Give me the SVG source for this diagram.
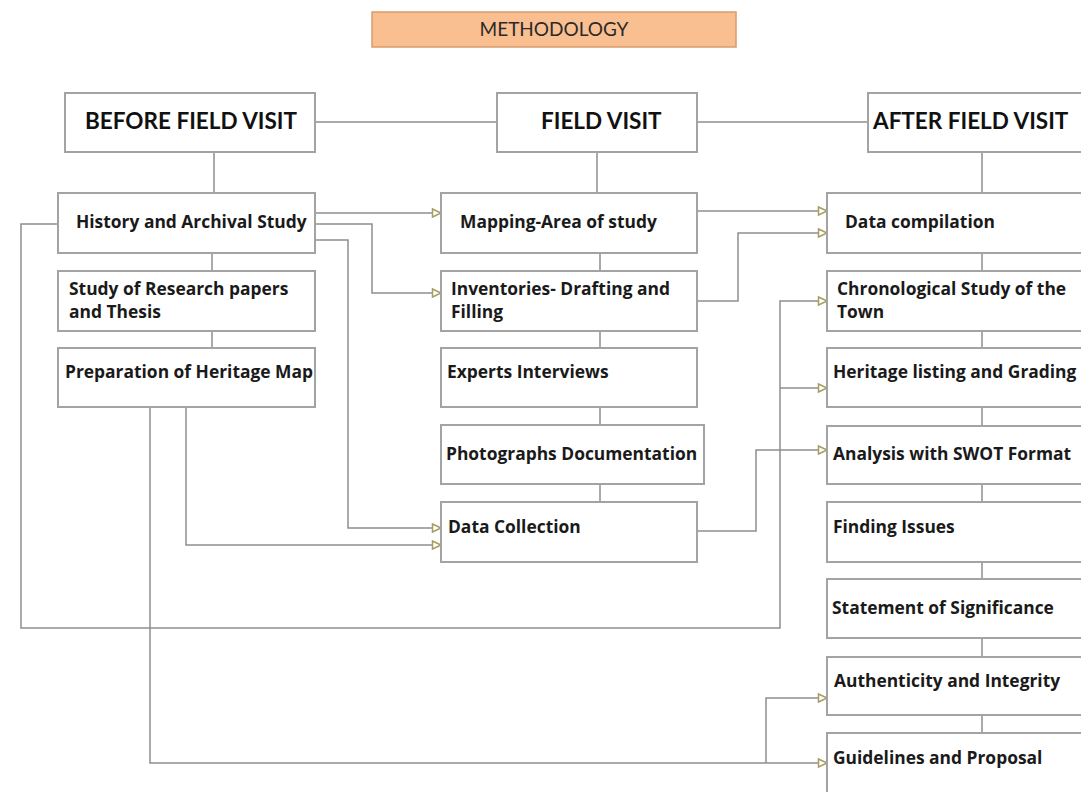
<svg xmlns="http://www.w3.org/2000/svg" width="1081" height="792" viewBox="0 0 1081 792">
<defs>
<style>
.box{fill:#fff;stroke:#a3a3a3;stroke-width:2}
.ln{fill:none;stroke:#8e8e8e;stroke-width:1.5}
.t{font-family:"Open Sans","Liberation Sans",sans-serif;font-weight:bold;font-size:17.4px;fill:#1a1a1a}
.h{font-family:Lato,"Liberation Sans",sans-serif;font-weight:bold;font-size:22.5px;fill:#111}
.ttl{font-family:Lato,"Liberation Sans",sans-serif;font-size:19px;fill:#2a2a2a}
</style>
<marker id="ar" markerUnits="userSpaceOnUse" markerWidth="12" markerHeight="12" viewBox="0 0 12 12" refX="10" refY="6" orient="auto">
<path d="M1.5,2 L10,6 L1.5,10 Z" fill="#fff" stroke="#a59d62" stroke-width="1.5"/>
</marker>
</defs>
<rect width="1081" height="792" fill="#fff"/>

<g id="title">
<rect x="372" y="12" width="364" height="35" fill="#f9bf91" stroke="#d99d6c" stroke-width="1.5"/>
<text class="ttl" x="554" y="36" text-anchor="middle">METHODOLOGY</text>
</g>

<g id="connectors">
<path class="ln" d="M315,122 H497"/>
<path class="ln" d="M697,122 H868"/>
<path class="ln" d="M214,152 V193"/>
<path class="ln" d="M597,152 V193"/>
<path class="ln" d="M982,152 V193"/>
<path class="ln" d="M212,253 V271 M212,331 V348"/>
<path class="ln" d="M600,253 V271 M600,331 V348 M600,407 V425 M600,484 V502"/>
<path class="ln" d="M982,253 V271 M982,331 V348 M982,407 V426 M982,484 V502 M982,562 V579 M982,638 V657 M982,715 V733"/>
<path class="ln" d="M315,213 H441" marker-end="url(#ar)"/>
<path class="ln" d="M315,224 H372 V293 H441" marker-end="url(#ar)"/>
<path class="ln" d="M315,240 H348 V528 H441" marker-end="url(#ar)"/>
<path class="ln" d="M58,224 H21 V628 H780 V301 H827" marker-end="url(#ar)"/>
<path class="ln" d="M780,388 H827" marker-end="url(#ar)"/>
<path class="ln" d="M186,407 V545 H441" marker-end="url(#ar)"/>
<path class="ln" d="M150,407 V763 H827" marker-end="url(#ar)"/>
<path class="ln" d="M766,763 V698 H827" marker-end="url(#ar)"/>
<path class="ln" d="M697,211 H827" marker-end="url(#ar)"/>
<path class="ln" d="M697,301 H738 V233 H827" marker-end="url(#ar)"/>
<path class="ln" d="M697,531 H756 V450 H827" marker-end="url(#ar)"/>
</g>

<g id="before-field-visit"><rect class="box" x="65" y="93" width="250" height="59"/><text class="h" x="85" y="129">BEFORE FIELD VISIT</text></g>
<g id="field-visit"><rect class="box" x="497" y="93" width="200" height="59"/><text class="h" x="541" y="129">FIELD VISIT</text></g>
<g id="after-field-visit"><rect class="box" x="868" y="93" width="230" height="59"/><text class="h" x="873" y="129">AFTER FIELD VISIT</text></g>

<g id="history"><rect class="box" x="58" y="193" width="257" height="60"/><text class="t" x="76" y="228">History and Archival Study</text></g>
<g id="research-papers"><rect class="box" x="58" y="271" width="257" height="60"/><text class="t" x="69" y="295">Study of Research papers</text><text class="t" x="69" y="318">and Thesis</text></g>
<g id="heritage-map"><rect class="box" x="58" y="348" width="257" height="59"/><text class="t" x="65" y="378">Preparation of Heritage Map</text></g>

<g id="mapping"><rect class="box" x="441" y="193" width="256" height="60"/><text class="t" x="460" y="228">Mapping-Area of study</text></g>
<g id="inventories"><rect class="box" x="441" y="271" width="256" height="60"/><text class="t" x="451" y="295">Inventories- Drafting and</text><text class="t" x="451" y="318">Filling</text></g>
<g id="experts"><rect class="box" x="441" y="348" width="256" height="59"/><text class="t" x="447" y="378">Experts Interviews</text></g>
<g id="photographs"><rect class="box" x="441" y="425" width="263" height="59"/><text class="t" x="446" y="460">Photographs Documentation</text></g>
<g id="data-collection"><rect class="box" x="441" y="502" width="256" height="60"/><text class="t" x="448" y="533">Data Collection</text></g>

<g id="data-compilation"><rect class="box" x="827" y="193" width="270" height="60"/><text class="t" x="845" y="228">Data compilation</text></g>
<g id="chronological"><rect class="box" x="827" y="271" width="270" height="60"/><text class="t" x="837" y="295">Chronological Study of the</text><text class="t" x="837" y="318">Town</text></g>
<g id="heritage-listing"><rect class="box" x="827" y="348" width="270" height="59"/><text class="t" x="833" y="378">Heritage listing and Grading</text></g>
<g id="swot"><rect class="box" x="827" y="426" width="270" height="58"/><text class="t" x="833" y="460">Analysis with SWOT Format</text></g>
<g id="finding-issues"><rect class="box" x="827" y="502" width="270" height="60"/><text class="t" x="833" y="533">Finding Issues</text></g>
<g id="significance"><rect class="box" x="827" y="579" width="270" height="59"/><text class="t" x="832" y="614">Statement of Significance</text></g>
<g id="authenticity"><rect class="box" x="827" y="657" width="270" height="58"/><text class="t" x="834" y="687">Authenticity and Integrity</text></g>
<g id="guidelines"><rect class="box" x="827" y="733" width="270" height="70"/><text class="t" x="833" y="764">Guidelines and Proposal</text></g>
</svg>
